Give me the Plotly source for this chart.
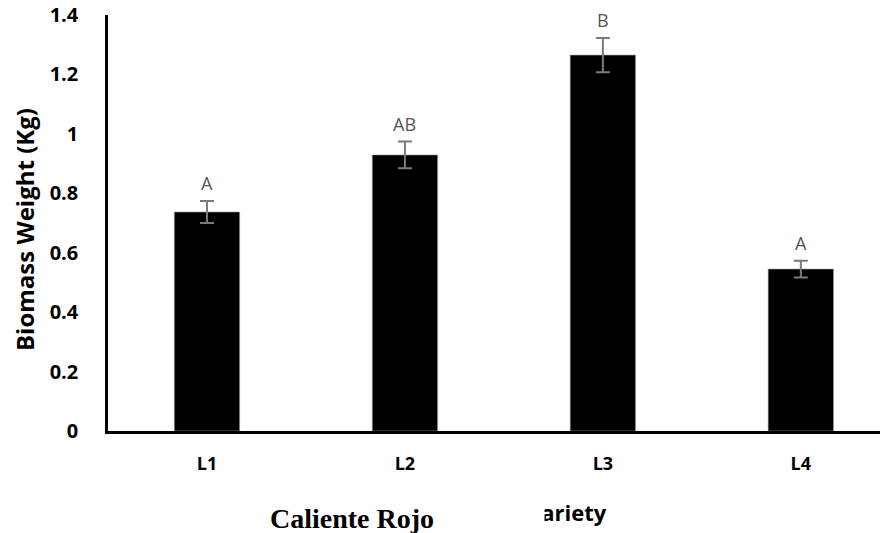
import plotly.graph_objects as go

categories = ["L1", "L2", "L3", "L4"]
biomass = [0.737, 0.929, 1.265, 0.545]
errors = [0.037, 0.045, 0.058, 0.028]
letters = ["A", "AB", "B", "A"]
y_ticks = [0, 0.2, 0.4, 0.6, 0.8, 1.0, 1.2, 1.4]
y_ticktext = ["0", "0.2", "0.4", "0.6", "0.8", "1", "1.2", "1.4"]

W, H = 891, 533
L, T = 108, 15
R = W - 880
B = H - 431
pw, ph = W - L - R, H - T - B

fig = go.Figure()
fig.add_trace(go.Bar(
    x=categories, y=biomass, width=0.33,
    marker=dict(color="black", line=dict(color="#9a9a9a", width=0.6)),
    error_y=dict(type="data", array=errors, visible=True,
                 color="#7a7a7a", thickness=2, width=7),
))

annotations = []
for c, v, e, t in zip(categories, biomass, errors, letters):
    annotations.append(dict(x=c, y=v + e, text=t, showarrow=False,
                            xanchor="center", yanchor="bottom", yshift=4,
                            font=dict(family="Open Sans", size=18, color="#555555")))

def px_x(p):
    return (p - L) / pw

def px_y(p):
    return (H - B - p) / ph

annotations.append(dict(xref="paper", yref="paper", x=px_x(24), y=px_y(230),
                        xanchor="center", yanchor="middle",
                        text="<b>Biomass Weight (Kg)</b>", textangle=-90, showarrow=False,
                        font=dict(family="Open Sans", size=24, color="black")))
annotations.append(dict(xref="paper", yref="paper", x=px_x(567), y=px_y(512),
                        xanchor="center", yanchor="middle",
                        text="<b>Variety</b>", showarrow=False,
                        font=dict(family="Open Sans", size=22, color="black")))
annotations.append(dict(xref="paper", yref="paper", x=px_x(352), y=px_y(518),
                        xanchor="center", yanchor="middle",
                        text="<b>Caliente Rojo</b>", showarrow=False, width=382, height=34,
                        bgcolor="white",
                        font=dict(family="Liberation Serif", size=28, color="black")))

fig.update_layout(
    width=W, height=H,
    margin=dict(l=L, r=R, t=T, b=B, pad=0),
    plot_bgcolor="white", paper_bgcolor="white",
    showlegend=False,
    annotations=annotations,
    xaxis=dict(range=[-0.5, 3.4], showline=True, linecolor="black", linewidth=2.5,
               showgrid=False, ticks="", ticklabelstandoff=15, automargin=False,
               tickfont=dict(family="Open Sans", size=18, color="black", weight="bold")),
    yaxis=dict(range=[0, 1.4], showline=True, linecolor="black", linewidth=2.5,
               showgrid=False, zeroline=False, ticks="", tickvals=y_ticks, ticktext=y_ticktext,
               ticklabelstandoff=23, automargin=False, ticklabeloverflow="allow",
               tickfont=dict(family="Open Sans", size=20, color="black", weight="bold")),
)

fig.write_html("out.html", config={"displayModeBar": False},
               post_script="document.body.style.margin='0';")
